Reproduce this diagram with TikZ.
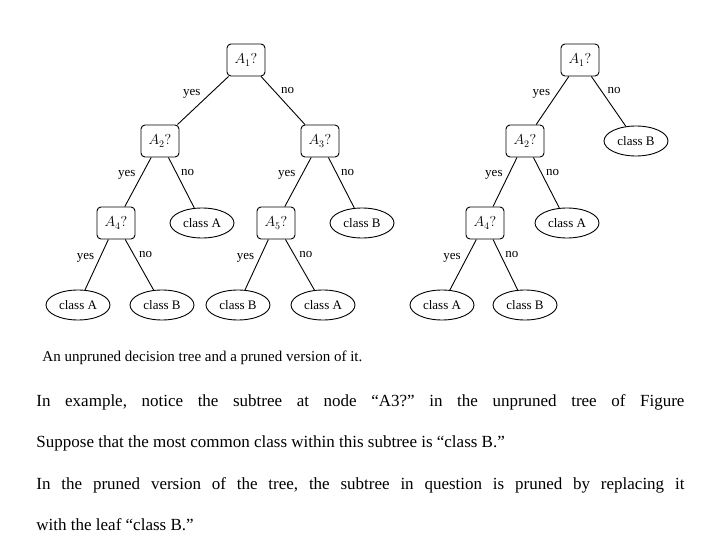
\documentclass[tikz,border=0pt]{standalone}
\usepackage{fontspec}
\setmainfont{Liberation Serif}
\usetikzlibrary{positioning,shapes.geometric}
\frenchspacing
\begin{document}
\begin{tikzpicture}[x=1pt,y=-1pt,line width=0.9pt,
	test/.style={draw,rounded corners=4pt,minimum width=38,minimum height=32,font=\fontsize{14}{15}\selectfont},
	leaf/.style={draw,ellipse,minimum width=64,minimum height=30,inner sep=1pt,font=\fontsize{13}{15}\selectfont},
	lab/.style={font=\fontsize{13}{15}\selectfont,inner sep=2pt}]
	\useasboundingbox (0,0) rectangle (720,540);
	% unpruned tree
	\node[test] (a1) at (246,60) {$A_1?$};
	\node[test] (a2) at (160,141) {$A_2?$};
	\node[test] (a3) at (320,141) {$A_3?$};
	\node[test] (a4) at (116,223) {$A_4?$};
	\node[leaf] (ca) at (202,223) {class A};
	\node[test] (a5) at (276,223) {$A_5?$};
	\node[leaf] (cb) at (362,223) {class B};
	\node[leaf] (l1) at (78,305) {class A};
	\node[leaf] (l2) at (162,305) {class B};
	\node[leaf] (l3) at (238,305) {class B};
	\node[leaf] (l4) at (323,305) {class A};
	\draw (a1) -- node[lab,above left]{yes} (a2);
	\draw (a1) -- node[lab,above right,pos=0.4]{no} (a3);
	\draw (a2) -- node[lab,above left]{yes} (a4);
	\draw (a2) -- node[lab,above right,pos=0.4]{no} (ca);
	\draw (a3) -- node[lab,above left]{yes} (a5);
	\draw (a3) -- node[lab,above right,pos=0.4]{no} (cb);
	\draw (a4) -- node[lab,above left]{yes} (l1);
	\draw (a4) -- node[lab,above right,pos=0.4]{no} (l2);
	\draw (a5) -- node[lab,above left]{yes} (l3);
	\draw (a5) -- node[lab,above right,pos=0.4]{no} (l4);
	% pruned tree
	\node[test] (p1) at (580,60) {$A_1?$};
	\node[test] (p2) at (525,141) {$A_2?$};
	\node[leaf] (pb) at (636,141) {class B};
	\node[test] (p4) at (485,223) {$A_4?$};
	\node[leaf] (pa) at (567,223) {class A};
	\node[leaf] (m1) at (442,305) {class A};
	\node[leaf] (m2) at (525,305) {class B};
	\draw (p1) -- node[lab,above left]{yes} (p2);
	\draw (p1) -- node[lab,above right,pos=0.4]{no} (pb);
	\draw (p2) -- node[lab,above left]{yes} (p4);
	\draw (p2) -- node[lab,above right,pos=0.4]{no} (pa);
	\draw (p4) -- node[lab,above left]{yes} (m1);
	\draw (p4) -- node[lab,above right,pos=0.4]{no} (m2);
	% caption and text
	\node[anchor=west,font=\fontsize{15}{17}\selectfont,inner sep=0] (cap) at (42,358) {An unpruned decision tree and a pruned version of it.};
	\node[anchor=north west,align=left,inner sep=0,
		font=\fontsize{17}{41.5}\selectfont] (txt) at (36,394) {\makebox[648pt][s]{In example, notice the subtree at node “A3?” in the unpruned tree of Figure}\\
		Suppose that the most common class within this subtree is “class B.”\\
		\makebox[648pt][s]{In the pruned version of the tree, the subtree in question is pruned by replacing it}\\
		with the leaf “class B.”};
\end{tikzpicture}
\end{document}
